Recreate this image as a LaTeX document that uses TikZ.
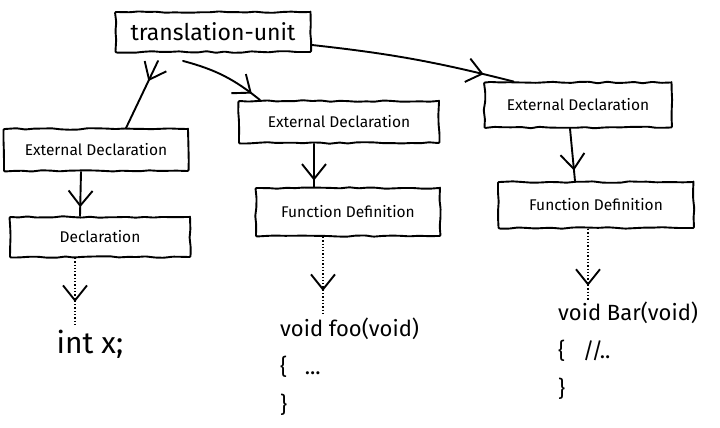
\documentclass[tikz,border=0pt]{standalone}
\usepackage{fontspec}
\setmainfont{Fira Sans}
\usetikzlibrary{arrows.meta,decorations.pathmorphing,decorations.markings,calc}
\begin{document}
\pgfmathsetseed{7}
\begin{tikzpicture}[x=1pt,y=-1pt,
  ink/.style={line width=1.9pt, line cap=round, line join=round},
  box/.style={ink, draw, rectangle, inner sep=0pt,
    decorate, decoration={random steps, segment length=9pt, amplitude=0.8pt},
    rounded corners=1pt, font=\fontsize{15.5}{17}\selectfont},
  link/.style={ink},
  hint/.style={line width=1.3pt, dotted},
  vhead/.style={postaction={decorate}, decoration={markings,
    mark=at position #1 with {\arrow{Straight Barb[length=15pt,width=24pt,line width=1.9pt]}}}},
  code/.style={align=left, inner sep=0pt, font=\fontsize{22}{38}\selectfont}
]
\useasboundingbox (0,0) rectangle (720,428);

% tree nodes
\node[box, minimum width=195, minimum height=40, font=\fontsize{23}{26}\selectfont] (tu) at (213,32) {translation-unit};
\node[box, minimum width=184, minimum height=42] (ed1) at (96,150) {External Declaration};
\node[box, minimum width=200, minimum height=42] (ed2) at (339,122) {External Declaration};
\node[box, minimum width=187, minimum height=45] (ed3) at (578,105) {External Declaration};
\node[box, minimum width=180, minimum height=40] (decl) at (100,237) {Declaration};
\node[box, minimum width=184, minimum height=48] (fd2) at (348,212) {Function Definition};
\node[box, minimum width=195, minimum height=46] (fd3) at (596,205) {Function Definition};

% source snippets
\node[code, font=\fontsize{30}{32}\selectfont] (c1) at (90,344) {int x;};
\node[code, anchor=north west] (c2) at (280,318) {void foo(void)\\\{ \ \ ...\\\}};
\node[code, anchor=north west] (c3) at (558,302) {void Bar(void)\\\{ \ \ //..\\\}};

% connectors
\draw[link, vhead=0.3] ($(tu.south)+(-55,8)$) -- ($(ed1.north)+(30,0)$);
\draw[link, vhead=0.88] ($(tu.south)+(-30,8)$) to[bend left=12] ($(ed2.north west)+(22,0)$);
\draw[link, vhead=0.85] ($(tu.south east)+(0,-8)$) to[bend left=4] ($(ed3.north west)+(30,0)$);
\draw[link, vhead=0.8] ($(ed1.south)+(-15,0)$) -- ($(decl.north)+(-20,0)$);
\draw[link, vhead=0.85] ($(ed2.south)+(-25,0)$) -- ($(fd2.north)+(-34,0)$);
\draw[link, vhead=0.8] ($(ed3.south)+(-8,0)$) -- ($(fd3.north)+(-21,0)$);

\coordinate (s1) at ($(decl.south)+(-25,0)$);
\coordinate (s2) at ($(fd2.south)+(-25,0)$);
\coordinate (s3) at ($(fd3.south)+(-8,0)$);
\draw[hint, vhead=0.65] (s1) -- ($(s1 |- c1.north)+(0,-4)$);
\draw[hint, vhead=0.7] (s2) -- ($(s2 |- c2.north)+(0,-4)$);
\draw[hint, vhead=0.8] (s3) -- ($(s3 |- c3.north)+(0,-2)$);
\end{tikzpicture}
\end{document}
